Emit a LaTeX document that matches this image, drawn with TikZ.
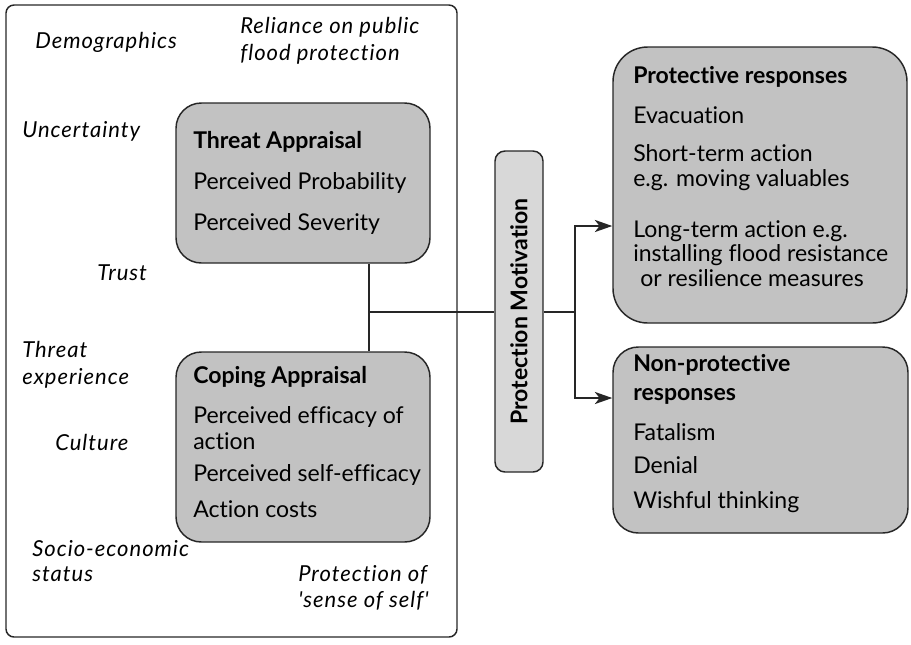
\documentclass[tikz,border=0pt]{standalone}
\usepackage{fontspec}
\setmainfont{Lato}[Ligatures=CommonOff]
\newfontfamily\factorfont{Lato}[LetterSpace=4.5, Ligatures=CommonOff]
\usetikzlibrary{arrows.meta,fit}
\definecolor{boxgray}{HTML}{C2C2C2}
\definecolor{pmgray}{HTML}{D8D8D8}
\definecolor{edge}{HTML}{262626}

\begin{document}
\begin{tikzpicture}[x=0.75pt,y=-0.75pt,
    box/.style={draw=edge, line width=1.1pt, fill=boxgray, rounded corners=#1, inner sep=0pt},
    box/.default=19pt,
    item/.style={anchor=mid west, inner sep=0pt, font=\fontsize{17.3}{20}\selectfont},
    head/.style={item, font=\fontsize{17.3}{20}\selectfont\bfseries},
    factor/.style={anchor=mid west, inner sep=0pt, font=\factorfont\fontsize{16.5}{19}\selectfont\itshape},
    link/.style={draw=edge, line width=2pt},
    arr/.style={link, -{Stealth[length=13pt,width=9pt,inset=3.5pt]}}]
		\useasboundingbox (0,0) rectangle (911,644);

		\node[draw=edge, line width=1.1pt, rounded corners=6pt, inner sep=0pt, fit={(6,5) (457,637)}] (frame) {};

		\node[box, fit={(176,103) (430,263)}] (ta) {};
		\node[box, fit={(176,352) (430,542)}] (ca) {};
		\node[box=7.5pt, fill=pmgray, fit={(495,151) (543,472)}] (pm) {};
		\node[box=26pt, fit={(613,47) (907,323)}] (pr) {};
		\node[box, fit={(613,347) (908,533)}] (np) {};

		\coordinate (j) at (369,312);
		\coordinate (s) at (575,312);
		\coordinate (up) at (575,226);
		\coordinate (dn) at (575,398);

		\draw[link] (ta.south -| j) -- (ca.north -| j);
		\draw[link] (j) -- (pm.west |- j);
		\draw[link, line width=1.6pt] (pm.east |- s) -- (s);
		\draw[arr] (s) -- (up) -- (up -| pr.west);
		\draw[arr] (s) -- (dn) -- (dn -| np.west);

		% appraisal
		\node[head] (tah) at (193,145) {Threat Appraisal};
		\node[item] (ta1) at (193,186) {Perceived Probability};
		\node[item] (ta2) at (193,227) {Perceived Severity};
		\node[head] (cah) at (193,380) {Coping Appraisal};
		\node[item] (ca1) at (193,420) {Perceived efficacy of};
		\node[item] (ca2) at (193,446) {action};
		\node[item] (ca3) at (193,478) {Perceived self-efficacy};
		\node[item] (ca4) at (193,514) {Action costs};
		\node[head, rotate=90, anchor=center] (pmh) at (pm) {Protection Motivation};

		% responses
		\node[head] (prh) at (633,80) {Protective responses};
		\node[item] (pr1) at (633,120) {Evacuation};
		\node[item] (pr2) at (633,158) {Short-term action};
		\node[item] (pr3) at (633,183) {e.g. moving valuables};
		\node[item] (pr4) at (633,234) {Long-term action e.g.};
		\node[item] (pr5) at (633,258) {installing flood resistance};
		\node[item] (pr6) at (640,283) {or resilience measures};
		\node[head] (nph1) at (633,368) {Non-protective};
		\node[head] (nph2) at (633,397) {responses};
		\node[item] (np1) at (633,437) {Fatalism};
		\node[item] (np2) at (633,470) {Denial};
		\node[item] (np3) at (633,505) {Wishful thinking};

		% factors
		\node[factor] (demo) at (35,45) {Demographics};
		\node[factor] (rel1) at (240,30) {Reliance on public};
		\node[factor] (rel2) at (240,57) {flood protection};
		\node[factor] (unc) at (22,134) {Uncertainty};
		\node[factor] (trust) at (97,277) {Trust};
		\node[factor] (exp1) at (22,354) {Threat};
		\node[factor] (exp2) at (22,381) {experience};
		\node[factor] (cult) at (55,447) {Culture};
		\node[factor] (ses1) at (32,553) {Socio-economic};
		\node[factor] (ses2) at (32,578) {status};
		\node[factor] (self1) at (298,578) {Protection of};
		\node[factor] (self2) at (298,604) {'sense of self'};
	\end{tikzpicture}
\end{document}
